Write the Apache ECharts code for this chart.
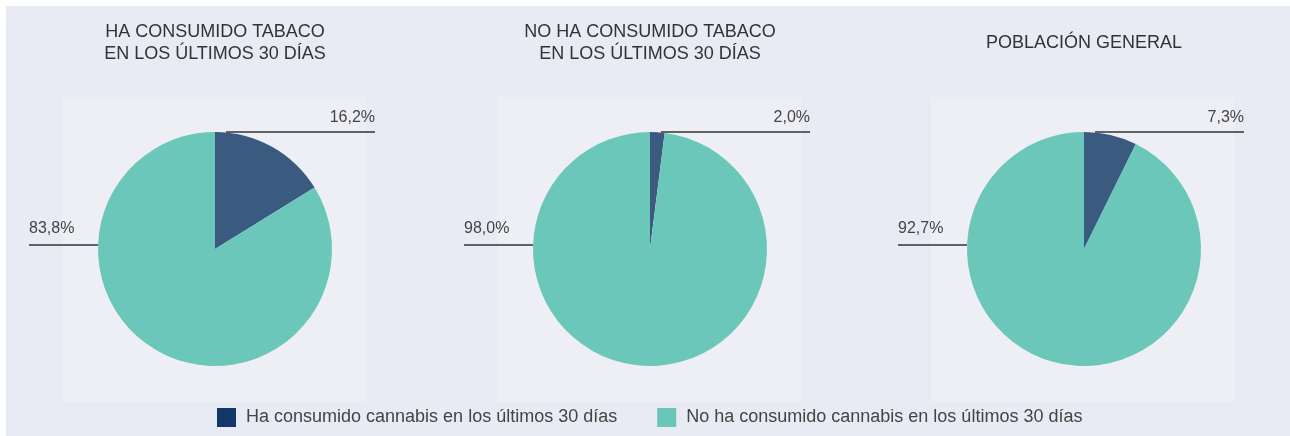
<!DOCTYPE html>
<html>
<head>
<meta charset="utf-8">
<style>
html,body{margin:0;padding:0;background:#ffffff;}
#chart{width:1290px;height:436px;}
</style>
<script src="https://cdn.jsdelivr.net/npm/echarts@6/dist/echarts.min.js"></script>
</head>
<body>
<div id="chart"></div>
<script>
// ---- data ----
const titles = ['HA CONSUMIDO TABACO\nEN LOS ÚLTIMOS 30 DÍAS', 'NO HA CONSUMIDO TABACO\nEN LOS ÚLTIMOS 30 DÍAS', 'POBLACIÓN GENERAL'];
const categories = ['Ha consumido cannabis en los últimos 30 días', 'No ha consumido cannabis en los últimos 30 días'];
const consumed = [16.2, 2.0, 7.3];
const notConsumed = [83.8, 98.0, 92.7];

// ---- layout ----
const centersX = [215, 650, 1084];
const centerY = 249;
const R = 117;
const sliceColors = ['#3b5a80', '#6ac7b9'];
const legendColors = ['#12386a', '#69c6b8'];
const FONT = '"Liberation Sans", Arial, sans-serif';

const chart = echarts.init(document.getElementById('chart'));

const fmt = v => v.toFixed(1).replace('.', ',') + '%';

const series = centersX.map((cx, i) => ({
  type: 'pie',
  center: [cx, centerY],
  radius: [0, R],
  startAngle: 90,
  clockwise: true,
  silent: true,
  animation: false,
  data: [
    { name: categories[0], value: consumed[i], itemStyle: { color: sliceColors[0] } },
    { name: categories[1], value: notConsumed[i], itemStyle: { color: sliceColors[1] } }
  ],
  label: {
    show: true,
    position: 'outside',
    formatter: p => fmt(p.value),
    color: '#444',
    fontSize: 16,
    fontFamily: FONT
  },
  labelLine: { show: true, lineStyle: { color: '#333', width: 1.5 } },
  labelLayout: function (params) {
    if (params.dataIndex === 0) {
      const y = centerY - R;
      const x1 = cx + 11, x2 = cx + R + 43;
      return { x: x2, y: y - 6, align: 'right', verticalAlign: 'bottom',
               labelLinePoints: [[x1, y], [x2, y], [x2, y]] };
    } else {
      const y = centerY - 4;
      const x1 = cx - R - 69, x2 = cx - R;
      return { x: x1, y: y - 8, align: 'left', verticalAlign: 'bottom',
               labelLinePoints: [[x2, y], [x1, y], [x1, y]] };
    }
  }
}));

const graphics = [
  { type: 'rect', silent: true, z: -10, shape: { x: 6, y: 6, width: 1284, height: 430 }, style: { fill: '#e8ebf3' } }
].concat(centersX.map(cx => ({
  type: 'rect', silent: true, z: -9,
  shape: { x: cx - 153, y: 97, width: 304, height: 305 },
  style: { fill: '#eeeff4' }
})));

chart.setOption({
  backgroundColor: '#ffffff',
  animation: false,
  graphic: graphics,
  title: titles.map((t, i) => ({
    text: t,
    left: centersX[i],
    top: i === 2 ? 32 : 21,
    padding: 0,
    textAlign: 'center',
    textStyle: { fontSize: 18, fontWeight: 'normal', color: '#333', fontFamily: FONT, lineHeight: 22 }
  })),
  legend: {
    bottom: 9,
    left: 217,
    itemWidth: 19,
    itemHeight: 19,
    itemGap: 40,
    icon: 'rect',
    selectedMode: false,
    padding: 0,
    textStyle: { fontSize: 18, color: '#444', fontFamily: FONT, padding: [0, 0, 0, 5] },
    data: categories.map((c, k) => ({ name: c, itemStyle: { color: legendColors[k] } }))
  },
  series: series
});
</script>
</body>
</html>
